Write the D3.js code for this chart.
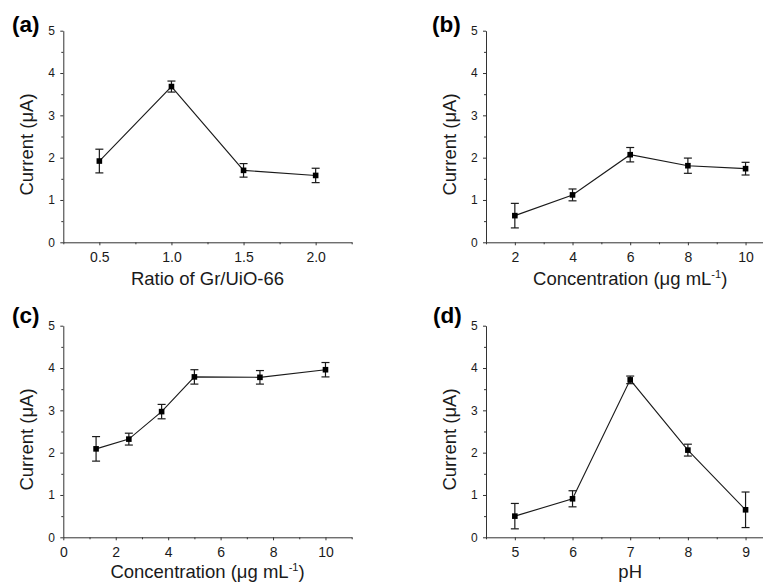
<!DOCTYPE html>
<html><head><meta charset="utf-8">
<script src="https://cdn.jsdelivr.net/npm/d3@7"></script>
<style>
body{margin:0;background:#fff;}
svg{display:block;font-family:"Liberation Sans",Arial,sans-serif;}
</style></head>
<body><svg id="c" width="763" height="582"></svg>
<script>
// ---- data ----
const panelLabels = ["(a)", "(b)", "(c)", "(d)"];
const xTitles = ["Ratio of Gr/UiO-66", "Concentration", "Concentration", "pH"];
const yTitle = "Current (\u03bcA)";

const xA = [0.5, 1.0, 1.5, 2.0];
const yA = [1.92, 3.68, 1.70, 1.58];
const eA = [0.28, 0.13, 0.16, 0.17];

const xB = [2, 4, 6, 8, 10];
const yB = [0.63, 1.12, 2.07, 1.81, 1.74];
const eB = [0.29, 0.14, 0.17, 0.18, 0.15];

const xC = [1.25, 2.5, 3.75, 5, 7.5, 10];
const yC = [2.09, 2.32, 2.97, 3.79, 3.78, 3.96];
const eC = [0.29, 0.14, 0.17, 0.17, 0.16, 0.17];

const xD = [5, 6, 7, 8, 9];
const yD = [0.50, 0.91, 3.72, 2.06, 0.65];
const eD = [0.30, 0.19, 0.09, 0.14, 0.42];

const xDomains = [[0.25, 2.25], [1, 11], [0, 11], [4.5, 9.5]];
const xMajor = [[0.5, 1.0, 1.5, 2.0], [2, 4, 6, 8, 10], [0, 2, 4, 6, 8, 10], [5, 6, 7, 8, 9]];
const xMinor = [[0.25, 0.75, 1.25, 1.75, 2.25], [1, 3, 5, 7, 9, 11], [1, 3, 5, 7, 9, 11], [4.5, 5.5, 6.5, 7.5, 8.5, 9.5]];
const xFormats = [".1f", "d", "d", "d"];
const yDomain = [0, 5];
const yMajor = [0, 1, 2, 3, 4, 5];
const yMinor = [0.5, 1.5, 2.5, 3.5, 4.5];

const seriesX = [xA, xB, xC, xD];
const seriesY = [yA, yB, yC, yD];
const seriesE = [eA, eB, eC, eD];

// ---- layout ----
const frames = [
  {x0: 63.3, x1: 351.7, y0: 242.3, y1: 30.7, lx: 12, ly: 31.5, tOff: 42.7},
  {x0: 486, x1: 774.4, y0: 242.3, y1: 30.7, lx: 432, ly: 31.5, tOff: 42.7},
  {x0: 63.3, x1: 351.7, y0: 537.3, y1: 325.7, lx: 12, ly: 322.5, tOff: 40.5},
  {x0: 486, x1: 774.4, y0: 537.3, y1: 325.7, lx: 433, ly: 322.5, tOff: 40.5}
];

const svg = d3.select("#c");
const ink = "#1a1a1a";

frames.forEach((f, i) => {
  const g = svg.append("g");
  const x = d3.scaleLinear().domain(xDomains[i]).range([f.x0, f.x1]);
  const y = d3.scaleLinear().domain(yDomain).range([f.y0, f.y1]);

  // minor ticks
  g.append("g").attr("transform", `translate(0,${f.y0})`)
    .call(d3.axisBottom(x).tickValues(xMinor[i]).tickSize(2).tickFormat(""))
    .call(s => s.select(".domain").remove())
    .selectAll("line").attr("stroke", "#333");
  g.append("g").attr("transform", `translate(${f.x0},0)`)
    .call(d3.axisLeft(y).tickValues(yMinor).tickSize(2).tickFormat(""))
    .call(s => s.select(".domain").remove())
    .selectAll("line").attr("stroke", "#333");

  // major axes
  const gx = g.append("g").attr("transform", `translate(0,${f.y0})`)
    .call(d3.axisBottom(x).tickValues(xMajor[i]).tickSize(3).tickSizeOuter(0)
      .tickPadding(6.4).tickFormat(d3.format(xFormats[i])));
  gx.select(".domain").attr("stroke", "#333");
  gx.selectAll("line").attr("stroke", "#333");
  gx.selectAll("text").attr("font-size", 14).attr("fill", ink)
    .attr("font-family", "Liberation Sans, Arial, sans-serif");

  const gy = g.append("g").attr("transform", `translate(${f.x0},0)`)
    .call(d3.axisLeft(y).tickValues(yMajor).tickSize(3).tickSizeOuter(0)
      .tickPadding(5.3).tickFormat(d3.format("d")));
  gy.select(".domain").attr("stroke", "#333");
  gy.selectAll("line").attr("stroke", "#333");
  gy.selectAll("text").attr("font-size", 12).attr("fill", ink)
    .attr("font-family", "Liberation Sans, Arial, sans-serif");

  // axis titles
  const xt = g.append("text")
    .attr("x", (f.x0 + f.x1) / 2).attr("y", f.y0 + f.tOff)
    .attr("text-anchor", "middle").attr("font-size", 18.5).attr("fill", ink)
    .text(xTitles[i]);
  if (i === 1 || i === 2) {
    xt.text(null);
    xt.append("tspan").text(xTitles[i] + " (\u03bcg mL");
    xt.append("tspan").attr("dy", -7).attr("font-size", 11).text("-1");
    xt.append("tspan").attr("dy", 7).text(")");
  }
  g.append("text")
    .attr("transform", `translate(${f.x0 - 30.5},${(f.y0 + f.y1) / 2 + 8}) rotate(-90)`)
    .attr("text-anchor", "middle").attr("font-size", 18.5).attr("fill", ink)
    .text(yTitle);

  // panel label
  g.append("text").attr("x", f.lx).attr("y", f.ly)
    .attr("font-size", 22.5).attr("font-weight", "bold").attr("fill", "#000")
    .text(panelLabels[i]);

  // data
  const pts = seriesX[i].map((xv, k) => ({x: xv, y: seriesY[i][k], e: seriesE[i][k]}));
  g.append("path").datum(pts)
    .attr("fill", "none").attr("stroke", ink).attr("stroke-width", 1.1)
    .attr("d", d3.line().x(d => x(d.x)).y(d => y(d.y)));

  const eb = g.append("g").attr("stroke", ink).attr("stroke-width", 1.2).attr("fill", "none");
  pts.forEach(d => {
    const cx = x(d.x), yt = y(d.y + d.e), yb = y(d.y - d.e);
    eb.append("line").attr("x1", cx).attr("x2", cx).attr("y1", yt).attr("y2", yb);
    eb.append("line").attr("x1", cx - 4).attr("x2", cx + 4).attr("y1", yt).attr("y2", yt);
    eb.append("line").attr("x1", cx - 4).attr("x2", cx + 4).attr("y1", yb).attr("y2", yb);
  });

  g.append("g").selectAll("rect").data(pts).join("rect")
    .attr("x", d => x(d.x) - 2.8).attr("y", d => y(d.y) - 2.8)
    .attr("width", 5.6).attr("height", 5.6).attr("fill", "#000");
});
</script></body></html>
